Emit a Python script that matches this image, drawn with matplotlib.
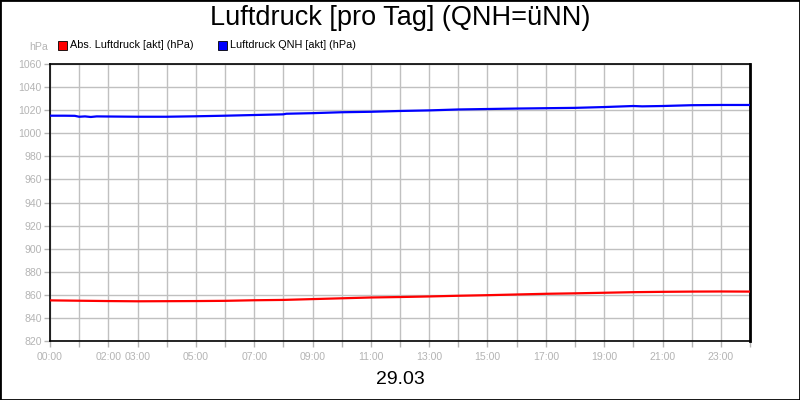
import matplotlib
matplotlib.use("Agg")
import matplotlib.pyplot as plt
from matplotlib.patches import Rectangle

plt.rcParams['font.family'] = ['Liberation Sans', 'DejaVu Sans']

title = "Luftdruck [pro Tag] (QNH=üNN)"
date_label = "29.03"
series_names = ["Abs. Luftdruck [akt] (hPa)", "Luftdruck QNH [akt] (hPa)"]
series_colors = ["#ff0000", "#0000ff"]

blue_hours = [0, 0.5, 0.85, 1.0, 1.2, 1.4, 1.6, 2, 3, 4, 5, 6, 7, 8, 8.1, 9, 10, 11, 12,
              13, 14, 15, 16, 17, 18, 19, 20, 20.3, 21, 22, 23, 24]
blue_values = [1015.2, 1015.2, 1015.1, 1014.3, 1014.6, 1014.1, 1014.6, 1014.5, 1014.3,
               1014.3, 1014.7, 1015.2, 1015.8, 1016.4, 1016.9, 1017.4, 1018.2, 1018.6,
               1019.3, 1019.8, 1020.6, 1021.0, 1021.4, 1021.7, 1022.0, 1022.7, 1023.6,
               1023.3, 1023.6, 1024.3, 1024.5, 1024.5]

red_hours = list(range(0, 25))
red_values = [855.2, 854.9, 854.6, 854.4, 854.5, 854.6, 854.8, 855.3, 855.6, 856.3,
              857.0, 857.7, 858.1, 858.6, 859.2, 859.7, 860.3, 860.9, 861.3, 861.8,
              862.3, 862.6, 862.8, 862.9, 862.8]

xtick_hours = [0, 2, 3, 5, 7, 9, 11, 13, 15, 17, 19, 21, 23]
xtick_labels = ["00:00", "02:00", "03:00", "05:00", "07:00", "09:00", "11:00",
                "13:00", "15:00", "17:00", "19:00", "21:00", "23:00"]
yticks = list(range(820, 1061, 20))

fig = plt.figure(figsize=(8, 4), dpi=100)
ax = fig.add_axes([50/800, 59/400, 700/800, 277/400])

ax.plot(red_hours, red_values, color=series_colors[0], lw=1.6, zorder=3)
ax.plot(blue_hours, blue_values, color=series_colors[1], lw=1.6, zorder=3)

ax.set_xlim(0, 24)
ax.set_ylim(820, 1060)
ax.set_xticks(range(0, 25))
lbl = ["" for _ in range(25)]
for h, l in zip(xtick_hours, xtick_labels):
    lbl[h] = l
ax.set_xticklabels(lbl)
ax.set_yticks(yticks)
ax.set_yticklabels([str(v) for v in yticks])
ax.grid(True, color="#c0c0c0", lw=1)
ax.set_axisbelow(True)
ax.tick_params(axis='both', direction='out', length=4, color="#b4b4b4",
               labelcolor="#b4b4b4", labelsize=7.6, width=1)
ax.tick_params(axis='x', pad=4)
ax.tick_params(axis='y', pad=2)
for s in ['left', 'bottom', 'top']:
    ax.spines[s].set_color('black')
    ax.spines[s].set_linewidth(1.2)
ax.spines['right'].set_linewidth(2)

fig.text(0.5, 1 - 18/400, title, ha='center', va='center', fontsize=19.5)
fig.text(0.5, 1 - 380/400, date_label, ha='center', va='center', fontsize=14)
fig.text(48/800, 1 - 47/400, "hPa", ha='right', va='center', fontsize=7.6, color="#b4b4b4")

# legend
for x0, name, col in [(58, series_names[0], series_colors[0]), (218, series_names[1], series_colors[1])]:
    fig.patches.append(Rectangle((x0/800, 1 - 50/400), 9/800, 9/400, transform=fig.transFigure,
                                 facecolor=col, edgecolor='black', lw=0.6))
    fig.text((x0 + 12)/800, 1 - 45/400, name, ha='left', va='center', fontsize=7.8)

fig.patches.append(Rectangle((0, 0), 1, 1, transform=fig.transFigure, fill=False,
                             edgecolor='black', lw=2))

fig.savefig("out.png", dpi=100)
